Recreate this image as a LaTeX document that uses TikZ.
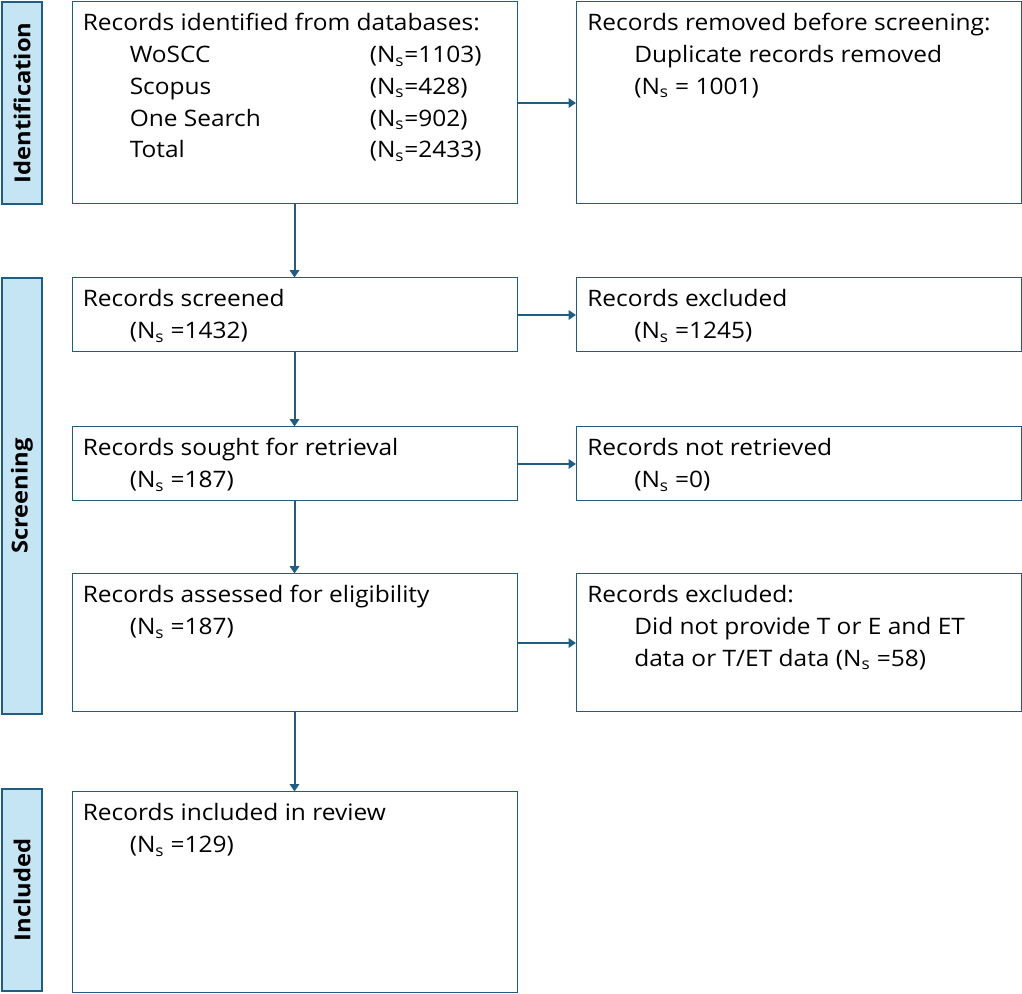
\documentclass[tikz,border=0pt]{standalone}
\usepackage{fontspec}
\setmainfont{Open Sans}[FakeStretch=1.08]
\usetikzlibrary{arrows.meta}

\definecolor{prismaline}{RGB}{31,94,130}
\definecolor{prismafill}{RGB}{197,229,245}
\newcommand{\Nsub}{N\textsubscript{s}}
\newcommand{\ind}{\hspace*{35.25pt}}

\begin{document}
\begin{tikzpicture}[x=0.75pt, y=-0.75pt,
	box/.style={draw=prismaline, line width=0.75pt, inner sep=0pt, minimum width=333.75pt},
	bar/.style={draw=prismaline, fill=prismafill, line width=1.5pt, inner sep=0pt, minimum width=30pt},
	barlabel/.style={rotate=90, font=\fontsize{16.5}{19}\selectfont\bfseries},
	txt/.style={anchor=base west, inner sep=0pt, font=\fontsize{17}{23.8}\selectfont},
	arr/.style={draw=prismaline, line width=1.5pt, -{Triangle[length=5.5pt,width=7pt]}}]
	\useasboundingbox (0,0) rectangle (1022,994);
	% phase bars
	\node[bar, minimum height=151.5pt] (idbar) at (22,103) {};
	\node[bar, minimum height=327pt] (scbar) at (22,496) {};
	\node[bar, minimum height=151.5pt] (inbar) at (22,890) {};
	\node[barlabel] at (idbar) {Identification};
	\node[barlabel] at (scbar) {Screening};
	\node[barlabel] at (inbar) {Included};
	% main column
	\node[box, minimum height=151.5pt] (ident) at (294.5,103) {};
	\node[box, minimum height=55.5pt] (screened) at (294.5,315) {};
	\node[box, minimum height=55.5pt] (sought) at (294.5,464) {};
	\node[box, minimum height=103.5pt] (assessed) at (294.5,643) {};
	\node[box, minimum height=150pt] (included) at (294.5,892) {};
	% side column
	\node[box, minimum height=151.5pt] (removed) at (799,103) {};
	\node[box, minimum height=55.5pt] (excluded) at (799,315) {};
	\node[box, minimum height=55.5pt] (notretr) at (799,464) {};
	\node[box, minimum height=103.5pt] (ineligible) at (799,643) {};
	% texts
	\node[txt] (identtxt) at ([shift={(11,29.5)}]ident.north west) {\begin{tabular}[t]{@{}l@{}}
		Records identified from databases:\\
		\ind\makebox[180pt][l]{WoSCC}(\Nsub=1103)\\
		\ind\makebox[180pt][l]{Scopus}(\Nsub=428)\\
		\ind\makebox[180pt][l]{One Search}(\Nsub=902)\\
		\ind\makebox[180pt][l]{Total}(\Nsub=2433)\end{tabular}};
	\node[txt] (screenedtxt) at ([shift={(11,29.5)}]screened.north west) {\begin{tabular}[t]{@{}l@{}}Records screened\\ \ind(\Nsub\ =1432)\end{tabular}};
	\node[txt] (soughttxt) at ([shift={(11,29.5)}]sought.north west) {\begin{tabular}[t]{@{}l@{}}Records sought for retrieval\\ \ind(\Nsub\ =187)\end{tabular}};
	\node[txt] (assessedtxt) at ([shift={(11,29.5)}]assessed.north west) {\begin{tabular}[t]{@{}l@{}}Records assessed for eligibility\\ \ind(\Nsub\ =187)\end{tabular}};
	\node[txt] (includedtxt) at ([shift={(11,29.5)}]included.north west) {\begin{tabular}[t]{@{}l@{}}Records included in review\\ \ind(\Nsub\ =129)\end{tabular}};
	\node[txt] (removedtxt) at ([shift={(11,29.5)}]removed.north west) {\begin{tabular}[t]{@{}l@{}}Records removed before screening:\\ \ind Duplicate records removed\\ \ind(\Nsub\ = 1001)\end{tabular}};
	\node[txt] (excludedtxt) at ([shift={(11,29.5)}]excluded.north west) {\begin{tabular}[t]{@{}l@{}}Records excluded\\ \ind(\Nsub\ =1245)\end{tabular}};
	\node[txt] (notretrtxt) at ([shift={(11,29.5)}]notretr.north west) {\begin{tabular}[t]{@{}l@{}}Records not retrieved\\ \ind(\Nsub\ =0)\end{tabular}};
	\node[txt] (ineligibletxt) at ([shift={(11,29.5)}]ineligible.north west) {\begin{tabular}[t]{@{}l@{}}Records excluded:\\ \ind Did not provide T or E and ET\\ \ind data or T/ET data (\Nsub\ =58)\end{tabular}};
	% arrows
	\draw[arr] (ident) -- (screened);
	\draw[arr] (screened) -- (sought);
	\draw[arr] (sought) -- (assessed);
	\draw[arr] (assessed) -- (included);
	\draw[arr] (ident) -- (removed);
	\draw[arr] (screened) -- (excluded);
	\draw[arr] (sought) -- (notretr);
	\draw[arr] (assessed) -- (ineligible);
\end{tikzpicture}
\end{document}
